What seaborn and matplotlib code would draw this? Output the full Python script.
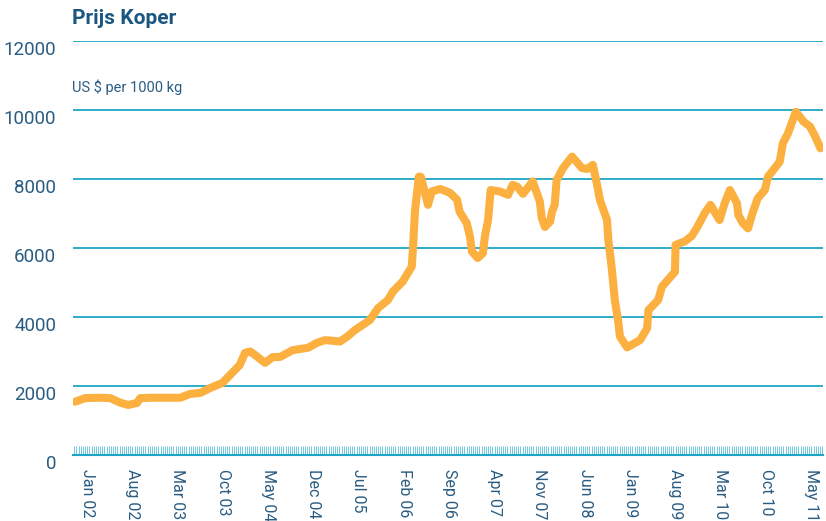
import numpy as np
import pandas as pd
import matplotlib
matplotlib.use("Agg")
import matplotlib.pyplot as plt
import seaborn as sns

# month offset from Jan 2002, copper price (US $ per 1000 kg)
months = [-1.85, -0.3, 2.0, 3.55, 5.1, 6.35, 7.7, 8.2, 10.2, 14.4, 15.9, 17.5, 19.0, 20.9,
          22.1, 23.6, 24.4, 25.2, 26.3, 27.5, 28.7, 29.8, 31.8, 34.2, 35.5, 36.8, 39.1,
          40.2, 41.4, 43.7, 45.0, 46.5, 47.3, 48.8, 50.2, 50.4, 50.7, 51.3, 51.6, 52.7,
          53.3, 54.6, 56.1, 57.2, 57.6, 58.7, 59.2, 59.5, 60.4, 61.2, 61.5, 62.0, 62.4,
          63.8, 65.1, 65.8, 66.5, 67.4, 68.9, 70.0, 70.3, 70.8, 71.6, 71.9, 72.3, 72.6,
          73.6, 75.0, 76.5, 77.3, 78.2, 78.8, 79.3, 80.4, 80.6, 81.1, 81.6, 82.1, 82.4,
          83.5, 85.5, 86.6, 86.8, 88.3, 88.9, 90.9, 91.0, 92.4, 93.5, 94.4, 95.5, 96.4,
          97.8, 98.6, 99.4, 100.5, 100.7, 101.4, 102.2, 102.9, 103.7, 104.8, 105.3,
          106.1, 107.1, 107.6, 108.4, 109.6, 110.8, 111.8, 112.6, 113.4]
prices = [1545, 1650, 1660, 1650, 1517, 1450, 1508, 1650, 1660, 1660, 1770, 1800, 1940, 2090,
          2320, 2610, 2960, 3000, 2850, 2670, 2840, 2840, 3040, 3110, 3250, 3330, 3290,
          3430, 3620, 3910, 4260, 4490, 4740, 5030, 5460, 6040, 7100, 8070, 8060, 7250,
          7640, 7710, 7600, 7400, 7050, 6720, 6330, 5900, 5710, 5850, 6330, 6810, 7680,
          7640, 7540, 7830, 7780, 7570, 7930, 7350, 6870, 6610, 6770, 7060, 7250, 7970,
          8320, 8650, 8320, 8290, 8410, 7890, 7390, 6810, 6230, 5460, 4490, 3910, 3430,
          3120, 3330, 3670, 4200, 4490, 4880, 5310, 6090, 6190, 6350, 6620, 7010, 7250,
          6810, 7300, 7680, 7300, 6960, 6720, 6570, 7010, 7440, 7680, 8070,
          8260, 8500, 9040, 9330, 9950, 9660, 9520, 9230, 8890]

tick_labels = ["Jan 02", "Aug 02", "Mar 03", "Oct 03", "May 04", "Dec 04", "Jul 05",
               "Feb 06", "Sep 06", "Apr 07", "Nov 07", "Jun 08", "Jan 09", "Aug 09",
               "Mar 10", "Oct 10", "May 11"]
tick_pos = [7 * i for i in range(len(tick_labels))]
y_ticks = [0, 2000, 4000, 6000, 8000, 10000, 12000]

df = pd.DataFrame({"month": months, "price": prices})

sns.set_theme(style="white")
plt.rcParams["font.family"] = ["Roboto", "DejaVu Sans"]

TEAL = "#1ea6c6"
TICK = "#5cc0d8"
LABEL = "#2a5c82"
TITLE = "#1b5680"
ORANGE = "#fbb040"

fig = plt.figure(figsize=(8.26, 5.21), dpi=100)
ax = fig.add_axes([73 / 826, 1 - 455 / 521, 750 / 826, 414 / 521])

sns.lineplot(data=df, x="month", y="price", ax=ax, color=ORANGE, linewidth=5.8,
             sort=False, solid_capstyle="round", solid_joinstyle="round")

ax.set_xlim(-2.2, 113.8)
ax.set_ylim(0, 12000)

for v in y_ticks[1:]:
    ax.axhline(v, color=TEAL, linewidth=1.3, zorder=0)

for s in ["left", "right", "top"]:
    ax.spines[s].set_visible(False)
ax.spines["bottom"].set_color(TEAL)
ax.spines["bottom"].set_linewidth(1.5)

ax.set_yticks(y_ticks, [str(v) for v in y_ticks], va="top")
ax.tick_params(axis="y", length=0, pad=12, labelsize=13.5, labelcolor=LABEL)

ax.set_xticks(tick_pos, tick_labels, rotation=-90, ha="center", va="top")
ax.set_xticks(np.arange(-2, 113.9, 1 / 3), minor=True)
ax.tick_params(axis="x", which="both", direction="in", length=6.5, width=0.6,
               color=TICK, bottom=True)
ax.tick_params(axis="x", which="major", pad=10, labelsize=11.5, labelcolor=LABEL)
ax.set_xlabel("")
ax.set_ylabel("")
ax.grid(False)

fig.text(72 / 826, 1 - 18 / 521, "Prijs Koper", fontsize=15, fontweight="bold",
         color=TITLE, va="center", ha="left")
fig.text(72 / 826, 1 - 87 / 521, "US $ per 1000 kg", fontsize=10.5,
         color=LABEL, va="center", ha="left")

fig.savefig("out.png", dpi=100)
